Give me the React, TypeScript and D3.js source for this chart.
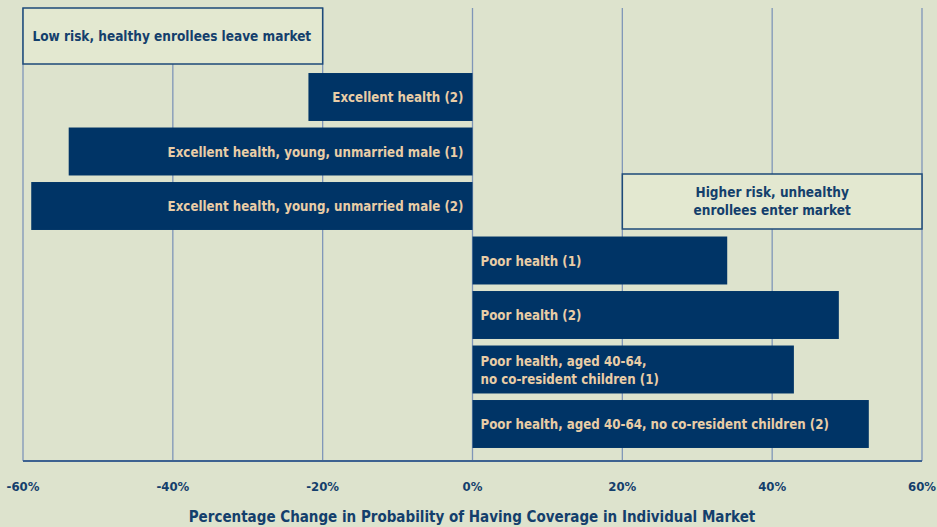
import React from "react";
import * as d3 from "d3";

const categories = [
  ["Excellent health (2)"],
  ["Excellent health, young, unmarried male (1)"],
  ["Excellent health, young, unmarried male (2)"],
  ["Poor health (1)"],
  ["Poor health (2)"],
  ["Poor health, aged 40-64,", "no co-resident children (1)"],
  ["Poor health, aged 40-64, no co-resident children (2)"],
];
const values = [-21.9, -53.9, -58.9, 34.0, 48.9, 42.9, 52.9];
const ticks = [-60, -40, -20, 0, 20, 40, 60];
const axisTitle = "Percentage Change in Probability of Having Coverage in Individual Market";
const leftNote = ["Low risk, healthy enrollees leave market"];
const rightNote = ["Higher risk, unhealthy", "enrollees enter market"];

const W = 937, H = 527;
const BG = "#dde3cd";
const NAVY = "#003466";
const GRID = "#7f96b8";
const TAN = "#e9cda6";
const BOXFILL = "#e3e8d0";
const FONT = "'Liberation Sans Narrow', 'Arial Narrow', 'DejaVu Sans Condensed', sans-serif";

export default function App() {
  const x = d3.scaleLinear().domain([-60, 60]).range([23, 922]);
  const y = d3.scaleBand<number>().domain(d3.range(values.length)).range([69.75, 451.25]).paddingInner(0.12).paddingOuter(0.06);
  const axisY = 461;
  const barFs = 13.2;
  return (
    <svg width={W} height={H} style={{ position: "absolute", left: 0, top: 0, background: BG, fontFamily: FONT }}>
      <rect x={0} y={0} width={W} height={H} fill={BG} />
      {ticks.map((t) => (
        <line key={t} x1={x(t)} x2={x(t)} y1={8} y2={axisY} stroke={GRID} strokeWidth={1.3} />
      ))}
      <line x1={x(-60)} x2={x(60)} y1={axisY} y2={axisY} stroke={"#3d6290"} strokeWidth={2} />
      {values.map((v, i) => {
        const x0 = x(Math.min(0, v));
        const x1 = x(Math.max(0, v));
        const by = y(i)!;
        const bh = y.bandwidth();
        const lines = categories[i];
        const neg = v < 0;
        return (
          <g key={i}>
            <rect x={x0} y={by} width={x1 - x0} height={bh} fill={NAVY} />
            <text
              x={neg ? x(0) - 9 : x(0) + 8}
              y={by + bh / 2 - ((lines.length - 1) * 18) / 2}
              textAnchor={neg ? "end" : "start"}
              dominantBaseline="central"
              fill={TAN}
              fontWeight="bold"
              fontSize={barFs}
            >
              {lines.map((l, j) => (
                <tspan key={j} x={neg ? x(0) - 9 : x(0) + 8} dy={j === 0 ? 0 : 18}>{l}</tspan>
              ))}
            </text>
          </g>
        );
      })}
      <rect x={x(-60)} y={8} width={x(-20) - x(-60)} height={56} fill={BOXFILL} stroke="#1d4a78" strokeWidth={1.5} />
      <text x={(x(-60) + x(-20)) / 2 - 1} y={36} textAnchor="middle" dominantBaseline="central" fill="#143f6c" fontWeight="bold" fontSize={13.5}>
        {leftNote[0]}
      </text>
      <rect x={x(20)} y={174} width={x(60) - x(20)} height={55} fill={BOXFILL} stroke="#1d4a78" strokeWidth={1.5} />
      <text textAnchor="middle" fill="#143f6c" fontWeight="bold" fontSize={13.5}>
        {rightNote.map((l, j) => (
          <tspan key={j} x={(x(20) + x(60)) / 2} y={192 + j * 18} dominantBaseline="central">{l}</tspan>
        ))}
      </text>
      {ticks.map((t) => (
        <text key={t} x={x(t)} y={486} textAnchor="middle" dominantBaseline="central" fill="#143f6c" fontWeight="bold" fontSize={13}>
          {`${t}%`}
        </text>
      ))}
      <text x={472} y={517} textAnchor="middle" dominantBaseline="central" fill="#143f6c" fontWeight="bold" fontSize={15}>
        {axisTitle}
      </text>
    </svg>
  );
}
